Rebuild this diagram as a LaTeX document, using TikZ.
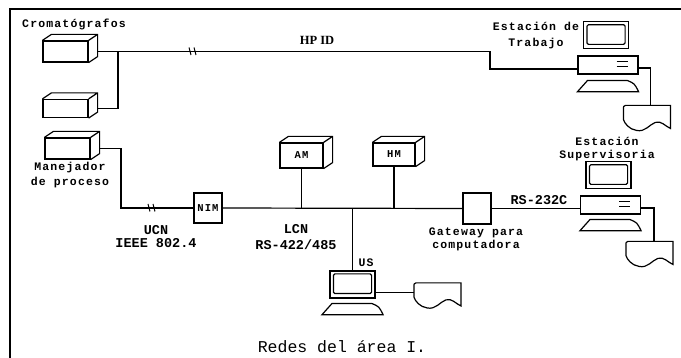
\documentclass[tikz,border=0pt]{standalone}
\usepackage{fontspec}
\usetikzlibrary{positioning}
\newfontfamily\etiqfont[LetterSpace=10]{Liberation Mono}
\newfontfamily\redfont{Liberation Mono}
\newfontfamily\hpfont{Liberation Serif}

\begin{document}
\begin{tikzpicture}[
    x=1pt,y=1pt,
    line width=1.2pt,
    node distance=6pt,
    marco/.style={line width=1.4pt},
    etiq/.style={font=\etiqfont\bfseries\fontsize{11.5}{13.5}\selectfont,inner sep=0pt,align=center},
    rotred/.style={font=\redfont\bfseries\fontsize{13.5}{13.5}\selectfont,inner sep=0pt,align=center},
    % caja en perspectiva (cromatografos, AM, HM)
    caja/.style={draw,fill=white,minimum width=45pt,minimum height=21pt,inner sep=0pt,
      font=\etiqfont\bfseries\fontsize{10.5}{10.5}\selectfont,
      append after command={\pgfextra{\let\cj\tikzlastnode
        \draw (\cj.north west) -- ++(9,6) -| ([shift={(9,6)}]\cj.south east) -- (\cj.south east)
          (\cj.north east) -- ++(9,6);}}},
    modulo/.style={draw,fill=white,minimum width=28pt,minimum height=30pt,inner sep=0pt,
      font=\etiqfont\bfseries\fontsize{10.5}{10.5}\selectfont},
    monitor/.style={draw,minimum width=45pt,minimum height=27pt,inner sep=0pt,
      append after command={\pgfextra{\let\cj\tikzlastnode
        \draw[rounded corners=1.5pt] ([shift={(4,-3.5)}]\cj.north west)
          rectangle ([shift={(-4,5)}]\cj.south east);}}},
    cpu/.style={draw,minimum width=60pt,minimum height=18pt,inner sep=0pt,
      append after command={\pgfextra{\let\cj\tikzlastnode
        \draw ([shift={(-22,-6)}]\cj.north east) -- ++(11,0)
          ([shift={(-22,-11)}]\cj.north east) -- ++(11,0);}}},
    teclado/.style={minimum width=60pt,minimum height=10pt,inner sep=0pt,
      append after command={\pgfextra{\let\cj\tikzlastnode
        \draw ([xshift=10pt]\cj.north west) -- ([xshift=-11pt]\cj.north east)
          .. controls ([shift={(-4,-3)}]\cj.north east) .. (\cj.south east)
          -- (\cj.south west) -- cycle;}}},
    impresora/.style={minimum width=47pt,minimum height=26pt,inner sep=0pt,
      append after command={\pgfextra{\let\cj\tikzlastnode
        \begin{scope}[shift={(\cj.north west)}]
          \draw (0,-3) .. controls (0,-1) .. (2,0) -- (47,0) -- (47,-23)
            .. controls (42,-21) and (38,-15) .. (32,-17)
            .. controls (26,-19) and (22,-27) .. (13,-25)
            .. controls (6,-24) and (1,-18) .. (0,-14) -- cycle;
        \end{scope}}}},
    corte/.pic={\draw[line width=1pt] (-4,4) -- (-2,-3.5) (1,4) -- (3,-3.5);}]
  \useasboundingbox (0,0) rectangle (681,-358);
  \draw[marco] (681,-9) -- (10,-9) -- (10,-358);

  % cromatografos y manejador
  \node[etiq] (tcrom) at (74,-24) {Cromatógrafos};
  \node[caja] (crom1) at (65.5,-51.5) {};
  \node[caja,minimum height=18pt] (crom2) at (65.5,-108.5) {};
  \node[caja] (mane) at (67.5,-148.5) {};
  \node[etiq] (tmane) at (70,-175.5) {Manejador\\[1.5pt]de proceso};

  % estacion de trabajo
  \node[cpu] (cpu1) at (608,-65) {};
  \node[monitor,above=6pt of cpu1,xshift=-2pt] (mon1) {};
  \node[teclado,below=6pt of cpu1] (tec1) {};
  \node[impresora] (imp1) at (647.5,-119) {};
  \node[etiq] (ttrab) at (536,-35.5) {Estación de\\[3pt]Trabajo};

  % estacion supervisoria
  \node[cpu] (cpu2) at (610.5,-205) {};
  \node[monitor,above=6pt of cpu2,xshift=-2pt] (mon2) {};
  \node[teclado,below=5pt of cpu2] (tec2) {};
  \node[impresora] (imp2) at (650,-255) {};
  \node[etiq] (tsup) at (607,-149) {Estación\\Supervisoria};

  % red LCN
  \node[modulo] (nim) at (208,-208) {NIM};
  \node[modulo,minimum height=31pt] (gw) at (477,-208.5) {};
  \node[caja,minimum width=43pt,minimum height=25pt] (am) at (301.5,-155.5) {AM};
  \node[caja,minimum width=42pt,minimum height=23pt] (hm) at (394,-154.5) {HM};
  \node[monitor] (mon3) at (352.5,-284.5) {};
  \node[teclado,below=5pt of mon3] (tec3) {};
  \node[impresora] (imp3) at (438,-296.5) {};
  \node[etiq] (tus) at (366,-263) {US};

  \coordinate (jcrom) at (118,-51.5);
  \coordinate (jhp) at (490,-51.5);
  \coordinate (jucn) at (121,-208);

  % HP-IB
  \draw ([xshift=9pt]crom1.east) -- (jhp) |- ([yshift=-4pt]cpu1.west);
  \draw ([xshift=9pt]crom2.east) -| (jcrom);
  \draw ([yshift=-3pt]cpu1.east) -| ([xshift=3pt]imp1.north);
  \pic at (193,-51.5) {corte};
  \node[font=\hpfont\bfseries\fontsize{12.5}{12.5}\selectfont] (thp) at (317,-40) {HP ID};

  % UCN
  \draw ([xshift=9pt]mane.east) -| (jucn) -- (nim.west);
  \pic at (152,-208) {corte};
  \node[rotred] (tucn) at (156,-236.5) {UCN\\IEEE 802.4};

  % LCN
  \draw (nim.east) -- (gw.west);
  \draw (am.south) -- (am.south |- nim.east);
  \draw (hm.south) -- (hm.south |- nim.east);
  \draw (mon3.north) -- (mon3.north |- nim.east);
  \draw ([yshift=-8pt]mon3.east) -- ([yshift=-8pt]mon3.east -| imp3.west);
  \node[rotred] (tlcn) at (296,-237) {LCN\\[2.5pt]RS-422/485};

  % gateway y RS-232C
  \draw (gw.east) -- (gw.east -| cpu2.west);
  \draw ([yshift=-3pt]cpu2.east) -| ([xshift=4pt]imp2.north);
  \node[etiq] (tgw) at (476,-239.5) {Gateway para\\computadora};
  \node[rotred] (trs) at (539,-200) {RS-232C};

  \node[font=\redfont\fontsize{16.5}{16.5}\selectfont] (titulo) at (342,-347) {Redes del área I.};
\end{tikzpicture}
\end{document}
